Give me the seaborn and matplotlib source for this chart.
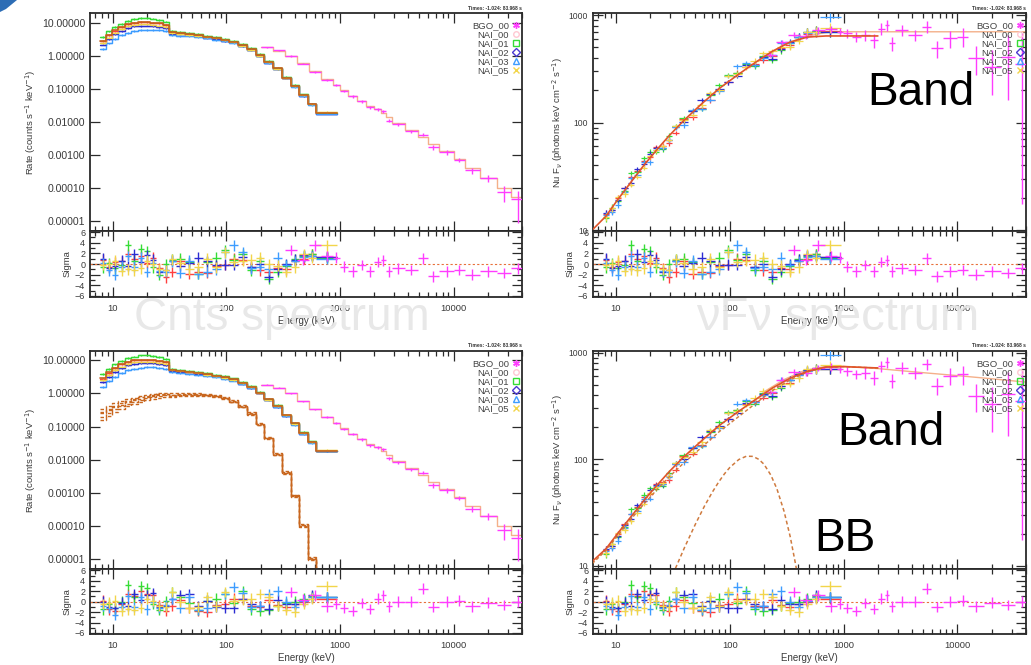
import numpy as np
import matplotlib
matplotlib.use('Agg')
import matplotlib.pyplot as plt
import seaborn as sns
from matplotlib.ticker import FixedLocator, LogLocator, MultipleLocator, NullFormatter, FixedFormatter
from matplotlib.lines import Line2D
from matplotlib.patches import Polygon

sns.set_theme(style='ticks')
plt.rcParams['font.family'] = ['Liberation Sans', 'DejaVu Sans']

# ---------------- data ----------------
detectors = ['BGO_00', 'NAI_00', 'NAI_01', 'NAI_02', 'NAI_03', 'NAI_05']

nai_edges = [7.7, 8.7, 9.9, 11.2, 12.8, 14.5, 16.5, 18.7, 21.2, 24.1, 27.4, 31.2, 36, 43, 52, 62, 74,
             89, 106, 127, 152, 181, 216, 258, 308, 368, 440, 525, 620, 940]
bgo_edges = [200, 255, 325, 415, 530, 680, 870, 990, 1180, 1420, 1690, 1990, 2300, 2520, 2850, 3700,
             4900, 5900, 7500, 10000, 12500, 17000, 24000, 32000, 42000]

# count spectra (counts s^-1 keV^-1)
rate_nai00 = [2.8, 4.2, 5.8, 7.5, 9.0, 10.0, 10.5, 10.5, 10.2, 9.6, 8.8, 5.2, 4.9, 4.6, 4.2, 3.8, 3.4, 3.1,
              2.7, 2.1, 1.6, 1.05, 0.66, 0.42, 0.22, 0.125, 0.066, 0.035, 0.019]
rate_nai01 = [3.8, 5.5, 7.5, 9.5, 11.5, 13.0, 14.0, 14.0, 13.5, 12.5, 11.0, 5.6, 5.2, 4.9, 4.5, 4.1, 3.7, 3.3,
              2.85, 2.25, 1.7, 1.12, 0.70, 0.44, 0.23, 0.13, 0.068, 0.036, 0.019]
rate_nai02 = [2.2, 3.2, 4.5, 5.8, 7.0, 7.8, 8.2, 8.3, 8.1, 7.7, 7.1, 4.7, 4.5, 4.3, 4.0, 3.6, 3.3, 2.9,
              2.55, 2.0, 1.5, 1.0, 0.63, 0.40, 0.21, 0.12, 0.062, 0.034, 0.018]
rate_nai03 = [1.6, 2.4, 3.2, 4.2, 5.0, 5.6, 6.0, 6.2, 6.2, 6.0, 5.6, 4.3, 4.1, 3.9, 3.7, 3.4, 3.1, 2.8,
              2.45, 1.95, 1.5, 1.0, 0.62, 0.40, 0.21, 0.115, 0.060, 0.033, 0.018]
rate_nai05 = [2.5, 3.6, 5.0, 6.5, 7.8, 8.6, 9.0, 9.0, 8.8, 8.3, 7.6, 5.0, 4.7, 4.4, 4.1, 3.7, 3.4, 3.0,
              2.6, 2.05, 1.55, 1.02, 0.64, 0.41, 0.22, 0.12, 0.064, 0.034, 0.020]
model_nai_rate = [2.9, 4.3, 5.9, 7.6, 9.0, 10.0, 10.5, 10.5, 10.2, 9.6, 8.8, 5.2, 4.9, 4.6, 4.25, 3.85, 3.45,
                  3.05, 2.65, 2.1, 1.6, 1.05, 0.66, 0.42, 0.22, 0.125, 0.066, 0.035, 0.019]
rate_bgo = [1.85, 1.5, 1.0, 0.58, 0.33, 0.19, 0.13, 0.085, 0.06, 0.042, 0.028, 0.024, 0.021, 0.011, 0.0085,
            0.0052, 0.0041, 0.0017, 0.0012, 0.00072, 0.00034, 0.0002, 7.5e-5, 4.5e-5]
rate_bgo_relerr = [0.04, 0.04, 0.05, 0.05, 0.06, 0.07, 0.08, 0.08, 0.09, 0.1, 0.1, 0.1, 0.1, 0.12, 0.1, 0.1,
                   0.1, 0.15, 0.15, 0.15, 0.2, 0.25, 0.5, 0.8]
model_bgo_rate = [1.8, 1.45, 1.0, 0.6, 0.34, 0.2, 0.13, 0.09, 0.062, 0.043, 0.031, 0.024, 0.019, 0.014,
                  0.0095, 0.0058, 0.0036, 0.0022, 0.0013, 0.00075, 0.0004, 0.0002, 0.0001, 5.5e-5]

# blackbody component in count space (bottom-left, dashed)
bb_nai00 = [0.28, 0.35, 0.43, 0.52, 0.6, 0.68, 0.76, 0.84, 0.9, 0.95, 0.98, 0.92, 0.95, 0.96, 0.95, 0.9, 0.83,
            0.73, 0.58, 0.41, 0.25, 0.12, 0.047, 0.015, 0.0042, 8.5e-4, 1.1e-4, 1.1e-5, 4e-7]
bb_nai01 = [0.35, 0.42, 0.5, 0.58, 0.66, 0.74, 0.82, 0.9, 0.96, 1.02, 1.06, 1.0, 1.02, 1.02, 1.0, 0.95, 0.88,
            0.78, 0.62, 0.44, 0.27, 0.13, 0.05, 0.016, 0.0045, 9e-4, 1.2e-4, 1.2e-5, 5e-7]
bb_nai02 = [0.2, 0.26, 0.33, 0.41, 0.49, 0.57, 0.65, 0.73, 0.8, 0.86, 0.9, 0.86, 0.9, 0.92, 0.92, 0.88, 0.82,
            0.72, 0.57, 0.4, 0.24, 0.115, 0.045, 0.014, 0.004, 8e-4, 1e-4, 1e-5, 4e-7]
bb_nai03 = [0.16, 0.21, 0.27, 0.34, 0.41, 0.48, 0.55, 0.62, 0.68, 0.73, 0.77, 0.8, 0.84, 0.86, 0.86, 0.83, 0.77,
            0.68, 0.54, 0.38, 0.23, 0.11, 0.043, 0.0135, 0.0038, 7.5e-4, 9.5e-5, 9.5e-6, 3.5e-7]
bb_nai05 = [0.25, 0.31, 0.38, 0.46, 0.54, 0.62, 0.7, 0.78, 0.84, 0.9, 0.94, 0.9, 0.93, 0.94, 0.93, 0.89, 0.82,
            0.72, 0.57, 0.4, 0.245, 0.118, 0.046, 0.0145, 0.0041, 8.2e-4, 1.05e-4, 1.05e-5, 4e-7]

# nuFnu data (photons keV cm^-2 s^-1)
nufnu_nai00 = [14.2, 15.5, 20, 24.5, 31, 35.5, 44, 47.5, 59, 61, 64, 80, 107, 112, 137, 161, 203, 237, 291, 330,
               350, 380, 420, 490, 525, 620, 670, 715, 705]
nufnu_nai01 = [13, 16.2, 18.6, 23.2, 34, 34.7, 46.7, 53.8, 53.2, 56.3, 75, 92, 110, 128, 134, 182, 223, 277, 288,
               350, 334, 420, 383, 470, 550, 630, 690, 715, 700]
nufnu_nai02 = [14.3, 15.3, 19.2, 24.4, 27.3, 37.1, 41, 51.5, 57.6, 58.2, 69.6, 91, 101.5, 127.5, 161, 183, 205,
               238, 272, 341, 347, 410, 394, 485, 560, 630, 690, 700, 700]
nufnu_nai03 = [13.7, 14.8, 17.2, 22.8, 30.5, 32.5, 42.9, 42.8, 55.7, 58.6, 68.3, 90.6, 94, 130.5, 134, 162, 196,
               272, 333, 357, 343, 400, 430, 550, 550, 620, 680, 700, 960]
nufnu_nai05 = [13.3, 16, 20.2, 21.7, 26.3, 31.1, 38.1, 48.7, 55, 60, 69.6, 92.8, 105, 118, 144.6, 189, 200, 272,
               282, 326, 377, 440, 460, 505, 510, 580, 700, 700, 760]
nufnu_nai_relerr = [0.08, 0.07, 0.06, 0.06, 0.05, 0.05, 0.05, 0.05, 0.05, 0.05, 0.06, 0.05, 0.05, 0.05, 0.05,
                    0.05, 0.05, 0.05, 0.05, 0.05, 0.06, 0.06, 0.06, 0.07, 0.07, 0.08, 0.09, 0.1, 0.1]
nufnu_bgo = [430, 560, 660, 640, 720, 740, 700, 675, 628, 650, 585, 750, 810, 545, 725, 650, 780, 490, 607, 628,
             395, 330, 410, 350]
nufnu_bgo_relerr = [0.05, 0.05, 0.06, 0.06, 0.07, 0.08, 0.08, 0.1, 0.1, 0.12, 0.15, 0.12, 0.12, 0.15, 0.12,
                    0.12, 0.12, 0.18, 0.18, 0.2, 0.3, 0.45, 0.6, 0.95]

# nuFnu model curves
model_e = [6.2, 8.2, 10.5, 13.6, 17.6, 22.6, 29.2, 39.3, 56.9, 81, 116, 166, 236, 337, 481, 700, 1000, 2000]
band_top = [10, 13.5, 19.5, 28, 40, 55, 75, 104, 150, 208, 275, 360, 460, 560, 625, 640, 640, 640]
band_bb_bot = [11, 14.5, 20.5, 29, 41, 56, 76, 105, 150, 208, 275, 360, 465, 575, 670, 735, 740, 720]
band_comp_bot = [10.5, 14, 19.5, 27.5, 38, 51, 68, 92, 130, 182, 245, 330, 440, 555, 660, 732, 740, 720]
bgo_model_e = [200, 300, 450, 700, 1000, 2000, 5000, 10000, 20000, 40000]
bgo_model_top = [400, 530, 630, 690, 700, 700, 700, 700, 700, 700]
bgo_model_bot = [430, 560, 680, 745, 748, 710, 650, 610, 570, 530]
bb_e = [30, 40, 50, 60, 70, 80, 90, 100, 120, 140, 160, 180, 200, 230, 260, 300, 340, 380, 420]
bb_nufnu = [7.3, 14.8, 24.7, 36.4, 48.8, 61.3, 73.2, 83.7, 99.5, 107, 106.6, 100, 90, 71, 52.7, 32.6, 18.8,
            10.2, 5.3]

# residuals (sigma)
res_top_nai00 = [0.8, -0.5, 0.3, 0.5, 1.8, 0.9, 1.5, 0.2, 1.2, -0.8, -2.5, -1.5, 0.5, -1.8, -1.5, -1.6, -0.4,
                 -0.2, 1.0, 0.8, -0.5, -1.2, -1.5, -0.8, -1.0, 0.6, 1.0, 1.8, 1.4]
res_top_nai01 = [-0.6, 0.2, -0.8, -0.2, 3.5, 0.6, 2.8, 2.4, -0.6, -2.0, 0.0, 0.8, 1.0, 0.3, -1.8, 0.4, 1.2, 2.6,
                 0.8, 1.8, -1.2, 0.5, -2.8, -1.5, -0.3, 0.9, 1.5, 1.8, 1.2]
res_top_nai02 = [1.0, -0.7, -0.3, 0.6, -0.4, 1.8, 0.4, 1.6, 0.8, -1.5, -1.2, 0.6, -0.4, 0.2, 1.2, 0.5, -0.2,
                 -0.1, -0.2, 1.4, -0.6, 0.0, -2.4, -1.0, 0.0, 0.8, 1.6, 1.5, 1.3]
res_top_nai03 = [0.2, -1.2, -2.0, -0.5, 1.5, -0.5, 1.2, -1.5, 0.2, -1.4, -1.5, 0.5, -1.6, 0.6, -1.8, -1.5, -1.0,
                 2.2, 3.5, 2.2, -0.8, -0.5, -1.0, 1.2, -0.2, 0.5, 1.4, 1.5, 1.0]
res_top_nai05 = [-0.2, 0.0, 0.6, -1.3, -1.0, -1.2, -0.8, 0.6, 0.0, -1.0, -1.2, 0.9, 0.2, -1.0, -0.6, 1.0, -0.6,
                 2.2, 0.4, 0.6, 0.8, 1.2, 0.0, -0.3, -1.5, -0.6, 1.8, 1.2, 3.5]
res_top_bgo = [-1.0, -1.5, 2.6, 0.8, 3.5, 1.5, 1.2, -0.5, -1.4, -0.2, -1.4, 0.4, 0.7, -1.4, -0.8, -1.1, 1.05,
               -2.3, -1.4, -1.1, -2.0, -1.4, -1.7, -0.8]
res_bot_nai00 = [0.2, -1.5, -1.8, -0.5, 1.5, 1.0, 2.0, 1.5, 1.2, -0.6, -1.8, -0.8, 0.3, -1.2, -1.8, -1.9, -0.6,
                 -0.5, 0.6, 0.5, -0.8, -1.0, 0.4, -0.6, -1.0, -0.4, 0.0, 0.8, 0.5]
res_bot_nai01 = [-1.5, -0.5, -1.3, 0.0, 3.2, 0.8, 3.0, 2.6, -0.4, -1.6, 0.1, 1.8, 0.9, -0.2, -1.6, 0.2, 0.6, 1.5,
                 -0.2, 2.0, -1.5, -1.8, -1.6, -0.8, -0.3, 0.0, 0.6, 1.0, 0.8]
res_bot_nai02 = [0.0, -1.0, -1.2, -0.2, -0.8, 1.5, 0.4, 1.2, 1.6, -1.0, -0.8, 0.5, 1.2, 1.4, -0.8, 0.2, -1.0,
                 -1.2, -1.2, 0.6, -0.4, -0.8, -1.4, 0.3, -0.5, -0.5, 0.2, 1.2, 0.9]
res_bot_nai03 = [-0.8, -1.2, -2.6, -1.0, 1.0, -1.0, 0.8, -1.5, 0.0, -1.2, -0.6, 0.6, -1.2, 0.8, -1.6, -1.2, -0.8,
                 1.5, 2.8, 1.6, -1.0, -0.8, 1.4, 2.0, 0.0, -1.0, 0.2, 0.8, 0.9]
res_bot_nai05 = [-0.5, -0.2, 0.2, -1.8, -1.5, -1.6, -1.2, 0.5, 0.2, -0.8, -1.0, 1.8, 0.0, -1.2, -1.0, 0.8, -0.9,
                 1.8, 0.2, 0.4, 0.6, 1.5, 0.8, -0.8, -1.6, -2.0, -0.4, 0.6, 3.0]
res_bot_bgo = [-0.8, -0.5, 1.8, 0.4, 1.2, -0.9, -0.4, -1.2, -1.8, -0.3, -1.4, 0.6, 1.2, -0.9, 0.0, 0.0, 2.5,
               -1.0, 0.0, 0.2, -0.9, -0.2, -0.6, 0.0]

count_ticks = [1e1, 1e0, 1e-1, 1e-2, 1e-3, 1e-4, 1e-5]
count_tick_labels = ['10.00000', '1.00000', '0.10000', '0.01000', '0.00100', '0.00010', '0.00001']
energy_ticks = [10, 100, 1000, 10000]
energy_tick_labels = ['10', '100', '1000', '10000']
nufnu_ticks = [10, 100, 1000]
nufnu_tick_labels = ['10', '100', '1000']
sigma_ticks = [-6, -4, -2, 0, 2, 4, 6]

# ---------------- styling ----------------
colors = {'BGO_00': '#ff3cff', 'NAI_00': '#ff3f3f', 'NAI_01': '#35dc35', 'NAI_02': '#2b2bd2',
          'NAI_03': '#3d9cff', 'NAI_05': '#f2d54a'}
legend_marker = {'BGO_00': ((6, 2, 0), '#ff40ff'), 'NAI_00': ('o', '#ffc8d2'), 'NAI_01': ('s', '#35dc35'),
                 'NAI_02': ('D', '#4a3ad0'), 'NAI_03': ('^', '#3d9cff'), 'NAI_05': ('x', '#f2d54a')}
nai_names = ['NAI_00', 'NAI_01', 'NAI_02', 'NAI_03', 'NAI_05']
nai_rates = dict(zip(nai_names, [rate_nai00, rate_nai01, rate_nai02, rate_nai03, rate_nai05]))
nai_bb = dict(zip(nai_names, [bb_nai00, bb_nai01, bb_nai02, bb_nai03, bb_nai05]))
nai_nufnu = dict(zip(nai_names, [nufnu_nai00, nufnu_nai01, nufnu_nai02, nufnu_nai03, nufnu_nai05]))
res_top = dict(zip(nai_names, [res_top_nai00, res_top_nai01, res_top_nai02, res_top_nai03, res_top_nai05]))
res_bot = dict(zip(nai_names, [res_bot_nai00, res_bot_nai01, res_bot_nai02, res_bot_nai03, res_bot_nai05]))

ne = np.array(nai_edges)
nai_c = np.sqrt(ne[:-1] * ne[1:])
nai_xerr = [nai_c - ne[:-1], ne[1:] - nai_c]
be = np.array(bgo_edges)
bgo_c = np.sqrt(be[:-1] * be[1:])
bgo_xerr = [bgo_c - be[:-1], be[1:] - bgo_c]

W, H = 1031, 665
XLIM = (6.3, 40000)
AX_COL = '#2a2a2a'
TXT = '#3a3a3a'

fig = plt.figure(figsize=(W / 100, H / 100), dpi=100)


def rect(l, t, r, b):
    return [l / W, 1 - b / H, (r - l) / W, (b - t) / H]


def base_style(ax):
    ax.set_facecolor('white')
    ax.set_xscale('log')
    ax.set_xlim(*XLIM)
    for sp in ax.spines.values():
        sp.set_visible(True)
        sp.set_linewidth(1.3)
        sp.set_color(AX_COL)
    ax.xaxis.set_major_locator(FixedLocator(energy_ticks))
    ax.xaxis.set_minor_locator(LogLocator(base=10, subs=np.arange(2, 10)))
    ax.tick_params(which='both', direction='in', top=True, right=True, colors=AX_COL,
                   labelcolor=TXT, labelsize=6.8, width=0.9)
    ax.tick_params(which='major', length=7)
    ax.tick_params(which='minor', length=3.5)
    ax.grid(False)


def step(ax, edges, vals, color, lw=1.0, ls='-', z=2):
    sns.lineplot(x=list(edges), y=list(vals) + [vals[-1]], drawstyle='steps-post', color=color,
                 lw=lw, linestyle=ls, ax=ax, estimator=None, sort=False, legend=False, zorder=z)


def add_legend(ax):
    handles = []
    for d in detectors:
        m, c = legend_marker[d]
        if d in ('BGO_00', 'NAI_05'):
            h = Line2D([], [], marker=m, linestyle='none', color=c, markersize=4.8, markeredgewidth=1.0)
        else:
            h = Line2D([], [], marker=m, linestyle='none', markerfacecolor='none', markeredgecolor=c,
                       markersize=4, markeredgewidth=1.0)
        handles.append(h)
    leg = ax.legend(handles, detectors, loc='upper right', bbox_to_anchor=(1.0, 0.975), frameon=False,
                    markerfirst=False, fontsize=6.8, handlelength=0.7, handletextpad=0.35,
                    labelspacing=0.0, borderaxespad=0.2, borderpad=0.1)
    for t in leg.get_texts():
        t.set_color('#444444')


def add_times(ax):
    ax.text(1.0, 1.012, 'Times: -1.024: 83.968 s', transform=ax.transAxes, ha='right', va='bottom',
            fontsize=3.6, color='#333333', fontweight='bold')


def count_panel(ax, with_bb):
    base_style(ax)
    ax.set_yscale('log')
    ax.set_ylim(5e-6, 19.5)
    ax.yaxis.set_major_locator(FixedLocator(count_ticks))
    ax.yaxis.set_major_formatter(FixedFormatter(count_tick_labels))
    ax.yaxis.set_minor_locator(FixedLocator([]))
    ax.xaxis.set_major_formatter(NullFormatter())
    ax.xaxis.set_minor_formatter(NullFormatter())
    ax.tick_params(axis='y', labelsize=7.6)
    # BGO
    step(ax, bgo_edges, model_bgo_rate, '#f4b08a', lw=1.0)
    rb = np.array(rate_bgo)
    ax.errorbar(bgo_c, rb, xerr=bgo_xerr, yerr=[rb * np.array(rate_bgo_relerr), rb * np.array(rate_bgo_relerr)],
                fmt='none', ecolor=colors['BGO_00'], elinewidth=1.0, zorder=3)
    # NaI
    for d in nai_names:
        r = np.array(nai_rates[d])
        step(ax, nai_edges, nai_rates[d], colors[d], lw=1.0)
        ax.errorbar(nai_c, r, xerr=nai_xerr, yerr=r * 0.06, fmt='none', ecolor=colors[d],
                    elinewidth=0.9, zorder=3)
    step(ax, nai_edges, model_nai_rate, '#c4601c', lw=1.2, z=4)
    if with_bb:
        for d in nai_names:
            step(ax, nai_edges, nai_bb[d], '#c8661e', lw=1.0, ls=(0, (2.5, 1.6)), z=4)
    ax.set_ylabel('Rate (counts s$^{-1}$ keV$^{-1}$)', fontsize=6.8, color=TXT, labelpad=3)
    add_legend(ax)
    add_times(ax)


def nufnu_panel(ax, bottom):
    base_style(ax)
    ax.set_yscale('log')
    ax.set_ylim((9.3, 1045) if bottom else (9.8, 1040))
    ax.yaxis.set_major_locator(FixedLocator(nufnu_ticks))
    ax.yaxis.set_major_formatter(FixedFormatter(nufnu_tick_labels))
    ax.yaxis.set_minor_locator(LogLocator(base=10, subs=np.arange(2, 10)))
    ax.yaxis.set_minor_formatter(NullFormatter())
    ax.xaxis.set_major_formatter(NullFormatter())
    ax.xaxis.set_minor_formatter(NullFormatter())
    ax.tick_params(axis='y', labelsize=6.2)
    for d in nai_names:
        v = np.array(nai_nufnu[d])
        ax.errorbar(nai_c, v, xerr=nai_xerr, yerr=v * np.array(nufnu_nai_relerr), fmt='none',
                    ecolor=colors[d], elinewidth=0.9, zorder=3)
    vb = np.array(nufnu_bgo)
    ax.errorbar(bgo_c, vb, xerr=bgo_xerr, yerr=vb * np.array(nufnu_bgo_relerr), fmt='none',
                ecolor=colors['BGO_00'], elinewidth=1.0, zorder=3)
    if bottom:
        sns.lineplot(x=bgo_model_e, y=bgo_model_bot, color='#f4b08a', lw=1.0, ax=ax, estimator=None,
                     sort=False, legend=False, zorder=2)
        sns.lineplot(x=model_e, y=band_comp_bot, color='#d07a3a', lw=1.0, linestyle=(0, (2.5, 1.6)), ax=ax,
                     estimator=None, sort=False, legend=False, zorder=4)
        sns.lineplot(x=model_e, y=band_bb_bot, color='#e0542a', lw=1.2, ax=ax, estimator=None, sort=False,
                     legend=False, zorder=4)
        sns.lineplot(x=bb_e, y=bb_nufnu, color='#cf7a3e', lw=1.1, linestyle=(0, (2.5, 1.8)), ax=ax,
                     estimator=None, sort=False, legend=False, zorder=4)
    else:
        sns.lineplot(x=bgo_model_e, y=bgo_model_top, color='#f4b08a', lw=1.0, ax=ax, estimator=None,
                     sort=False, legend=False, zorder=2)
        sns.lineplot(x=model_e, y=band_top, color='#e0542a', lw=1.2, ax=ax, estimator=None, sort=False,
                     legend=False, zorder=4)
    ax.set_ylabel('Nu F$_{\\nu}$ (photons keV cm$^{-2}$ s$^{-1}$)', fontsize=6.8, color=TXT, labelpad=3)
    add_legend(ax)
    add_times(ax)


def resid_panel(ax, res_nai, res_bgo):
    base_style(ax)
    ax.set_ylim(-6.2, 6.2)
    ax.yaxis.set_major_locator(FixedLocator(sigma_ticks))
    ax.yaxis.set_minor_locator(MultipleLocator(1))
    ax.xaxis.set_major_formatter(FixedFormatter(energy_tick_labels))
    ax.xaxis.set_minor_formatter(NullFormatter())
    ax.tick_params(axis='y', labelsize=6.5)
    ax.tick_params(axis='x', pad=5)
    ax.axhline(0, color='#e8703a', lw=0.8, ls=(0, (2, 2)), zorder=1)
    for d in nai_names:
        ax.errorbar(nai_c, res_nai[d], xerr=nai_xerr, yerr=1.0, fmt='none', ecolor=colors[d],
                    elinewidth=1.0, zorder=3)
    ax.errorbar(bgo_c[2:], res_bgo[2:], xerr=[bgo_xerr[0][2:], bgo_xerr[1][2:]], yerr=1.0, fmt='none',
                ecolor=colors['BGO_00'], elinewidth=1.0, zorder=3)
    ax.set_ylabel('Sigma', fontsize=6.8, color=TXT, labelpad=2)
    ax.set_xlabel('Energy (keV)', fontsize=7, color=TXT, labelpad=2)


ax_tl = fig.add_axes(rect(90, 13.3, 522, 231))
ax_tlr = fig.add_axes(rect(90, 231, 522, 297))
ax_bl = fig.add_axes(rect(90, 350.7, 522, 569.3))
ax_blr = fig.add_axes(rect(90, 569.3, 522, 634))
ax_tr = fig.add_axes(rect(593, 13.3, 1026, 231))
ax_trr = fig.add_axes(rect(593, 231, 1026, 297))
ax_br = fig.add_axes(rect(593, 350.7, 1026, 569.3))
ax_brr = fig.add_axes(rect(593, 569.3, 1026, 634))

count_panel(ax_tl, False)
count_panel(ax_bl, True)
nufnu_panel(ax_tr, False)
nufnu_panel(ax_br, True)
resid_panel(ax_tlr, res_top, res_top_bgo)
resid_panel(ax_trr, res_top, res_top_bgo)
resid_panel(ax_blr, res_bot, res_bot_bgo)
resid_panel(ax_brr, res_bot, res_bot_bgo)

# annotations
fig.text(282 / W, 1 - 318 / H, 'Cnts spectrum', fontsize=33, color='#e6e6e6', alpha=0.92,
         ha='center', va='center', zorder=20)
fig.text(838 / W, 1 - 318 / H, '\u03bdF\u03bd spectrum', fontsize=34, color='#e6e6e6', alpha=0.92,
         ha='center', va='center', zorder=20)
fig.text(921 / W, 1 - 93 / H, 'Band', fontsize=33, color='black', ha='center', va='center', zorder=20)
fig.text(891 / W, 1 - 433 / H, 'Band', fontsize=33, color='black', ha='center', va='center', zorder=20)
fig.text(845 / W, 1 - 539 / H, 'BB', fontsize=33, color='black', ha='center', va='center', zorder=20)

logo = Polygon([(0 / W, 1 - 0 / H), (17 / W, 1 - 0 / H), (6 / W, 1 - 9 / H), (0 / W, 1 - 12 / H)],
               closed=True, transform=fig.transFigure, facecolor='#2d6db5', edgecolor='none')
fig.patches.append(logo)

fig.savefig('out.png', dpi=100)
